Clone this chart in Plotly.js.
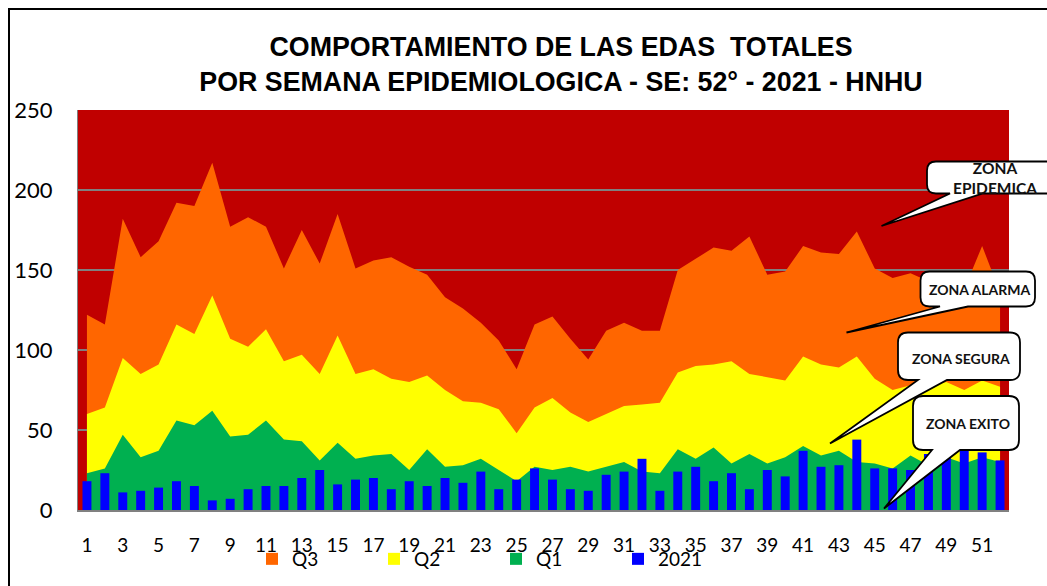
<!DOCTYPE html>
<html>
<head>
<meta charset="utf-8">
<script src="https://cdn.plot.ly/plotly-3.0.1.min.js"></script>
<style>
html,body{margin:0;padding:0;background:#fff;}
#chart{width:1047px;height:586px;}
</style>
</head>
<body>
<div id="chart"></div>
<script>
// ---- data ----
const weeks = [1,2,3,4,5,6,7,8,9,10,11,12,13,14,15,16,17,18,19,20,21,22,23,24,25,26,
               27,28,29,30,31,32,33,34,35,36,37,38,39,40,41,42,43,44,45,46,47,48,49,50,51,52];
const q3 = [122,116,182,158,168,192,190,217,177,183,177,151,175,154,185,151,156,158,152,147,133,126,117,106,88,116,
            121,107,94,112,117,112,112,150,157,164,162,171,147,149,165,161,160,174,151,145,148,143,140,138,165,136];
const q2 = [60,64,95,85,91,116,110,134,107,102,113,93,97,85,109,85,88,82,80,84,75,68,67,63,48,64,
            70,61,55,60,65,66,67,86,90,91,93,85,83,81,96,91,89,96,82,75,78,77,80,75,81,77];
const q1 = [23,26,47,33,37,56,53,62,46,47,56,44,43,31,42,32,34,35,25,38,27,28,32,25,18,27,
            25,27,24,27,30,24,23,38,32,39,29,35,29,33,40,34,37,30,29,26,34,28,33,29,33,30];
const cases2021 = [18,23,11,12,14,18,15,6,7,13,15,15,20,25,16,19,20,13,18,15,20,17,24,13,19,26,
                   19,13,12,22,24,32,12,24,27,18,23,13,25,21,37,27,28,44,26,26,25,35,38,40,36,31];
const xTickVals = [1,3,5,7,9,11,13,15,17,19,21,23,25,27,29,31,33,35,37,39,41,43,45,47,49,51];
const yTickVals = [0,50,100,150,200,250];
const seriesNames = ['Q3','Q2','Q1','2021'];
const zoneLabels = ['ZONA<br>EPIDEMICA','ZONA ALARMA','ZONA SEGURA','ZONA EXITO'];
const titleText = 'COMPORTAMIENTO DE LAS EDAS\u00A0 TOTALES<br>POR SEMANA EPIDEMIOLOGICA - SE: 52° - 2021 - HNHU';

// ---- geometry helpers (pixel -> paper) ----
const M = {l:78, r:38, t:110, b:76};
const W = 1047 - M.l - M.r, H = 586 - M.t - M.b;
const px = x => (x - M.l) / W;
const py = y => (M.t + H - y) / H;
function P(x, y){ return px(x).toFixed(5) + ',' + py(y).toFixed(5); }
function bubble(l, t, r, b, rad, b1, b2, tx, ty){
  return 'M' + P(l+rad, t) + ' L' + P(r-rad, t) + ' Q' + P(r, t) + ' ' + P(r, t+rad) +
         ' L' + P(r, b-rad) + ' Q' + P(r, b) + ' ' + P(r-rad, b) +
         ' L' + P(b2, b) + ' L' + P(tx, ty) + ' L' + P(b1, b) +
         ' L' + P(l+rad, b) + ' Q' + P(l, b) + ' ' + P(l, b-rad) +
         ' L' + P(l, t+rad) + ' Q' + P(l, t) + ' ' + P(l+rad, t) + ' Z';
}

const cOr = '#FF6600', cYe = '#FFFF00', cGr = '#00B050', cBl = '#0000FF', cRed = '#C00000';

const traces = [
  {type:'scatter', x:weeks, y:q3, mode:'none', fill:'tozeroy', fillcolor:cOr, name:seriesNames[0], legendgroup:'q3', showlegend:false, hoverinfo:'x+y'},
  {type:'scatter', x:weeks, y:q2, mode:'none', fill:'tozeroy', fillcolor:cYe, name:seriesNames[1], legendgroup:'q2', showlegend:false, hoverinfo:'x+y'},
  {type:'scatter', x:weeks, y:q1, mode:'none', fill:'tozeroy', fillcolor:cGr, name:seriesNames[2], legendgroup:'q1', showlegend:false, hoverinfo:'x+y'},
  {type:'bar', x:[null], y:[null], name:seriesNames[0], legendgroup:'q3', marker:{color:cOr}},
  {type:'bar', x:[null], y:[null], name:seriesNames[1], legendgroup:'q2', marker:{color:cYe}},
  {type:'bar', x:[null], y:[null], name:seriesNames[2], legendgroup:'q1', marker:{color:cGr}},
  {type:'bar', x:weeks, y:cases2021, name:seriesNames[3], yaxis:'y2', marker:{color:cBl}}
];

const fTick = {family:'Lato, Carlito, sans-serif', size:19, color:'#000'};
const fZone = {family:'Lato, Carlito, sans-serif', size:14, color:'#111', weight:'bold'};

const layout = {
  width:1047, height:586,
  margin:{l:M.l, r:M.r, t:M.t, b:M.b, pad:0, autoexpand:false},
  paper_bgcolor:'#FFFFFF',
  plot_bgcolor:cRed,
  showlegend:true,
  barmode:'overlay',
  bargap:0.5,
  title:{
    text:titleText,
    font:{family:'Liberation Sans, Arial, sans-serif', size:26.8, color:'#000', weight:'bold'},
    x:px(561), xref:'paper', xanchor:'center',
    y:1 - 56/586, yref:'container', yanchor:'top'
  },
  xaxis:{
    range:[0.5, 52.5], tickmode:'array', tickvals:xTickVals, ticktext:xTickVals.map(String),
    showgrid:false, zeroline:false, showline:true, linecolor:'#808080', linewidth:2,
    ticks:'', tickfont:fTick, ticklabelstandoff:17, fixedrange:true
  },
  yaxis:{
    range:[0, 250], tickmode:'array', tickvals:yTickVals,
    showgrid:true, gridcolor:'#808080', gridwidth:2,
    zeroline:false, showline:true, linecolor:'#808080', linewidth:1,
    ticks:'', tickfont:{family:'Lato, Carlito, sans-serif', size:22, color:'#000'}, ticklabelstandoff:20, fixedrange:true
  },
  yaxis2:{
    overlaying:'y', range:[0, 250], showgrid:false, zeroline:false, showline:false,
    showticklabels:false, ticks:'', fixedrange:true
  },
  legend:{
    orientation:'h', x:px(252), xanchor:'left', y:py(540), yanchor:'top',
    font:{family:'Lato, Carlito, sans-serif', size:19, color:'#000'},
    entrywidth:77, entrywidthmode:'pixels', traceorder:'normal',
    bgcolor:'rgba(0,0,0,0)', borderwidth:0, itemclick:false, itemdoubleclick:false
  },
  shapes:[
    {type:'rect', xref:'paper', yref:'paper', x0:px(9), x1:px(1070), y0:py(620), y1:py(9),
     line:{color:'#000', width:2}, fillcolor:'rgba(0,0,0,0)', layer:'above'},
    {type:'path', xref:'paper', yref:'paper', path:bubble(927, 161.5, 1075, 193.5, 9, 950, 983, 881.5, 226),
     fillcolor:'#FFFFFF', line:{color:'#000', width:1.8}, layer:'above'},
    {type:'path', xref:'paper', yref:'paper', path:bubble(920.5, 271.5, 1035, 306.5, 9, 940, 968, 846.5, 332.5),
     fillcolor:'#FFFFFF', line:{color:'#000', width:1.8}, layer:'above'},
    {type:'path', xref:'paper', yref:'paper', path:bubble(898, 332.5, 1020, 380, 10, 918, 947, 830, 443.5),
     fillcolor:'#FFFFFF', line:{color:'#000', width:1.8}, layer:'above'},
    {type:'path', xref:'paper', yref:'paper', path:bubble(913, 396, 1019, 450, 10, 932, 960, 884, 508.5),
     fillcolor:'#FFFFFF', line:{color:'#000', width:1.8}, layer:'above'}
  ],
  annotations:[
    {xref:'paper', yref:'paper', x:px(995), y:py(178), text:zoneLabels[0], showarrow:false,
     xanchor:'center', yanchor:'middle', font:Object.assign({}, fZone, {size:15.5})},
    {xref:'paper', yref:'paper', x:px(979.5), y:py(289.5), text:zoneLabels[1], showarrow:false,
     xanchor:'center', yanchor:'middle', font:fZone},
    {xref:'paper', yref:'paper', x:px(961), y:py(358), text:zoneLabels[2], showarrow:false,
     xanchor:'center', yanchor:'middle', font:fZone},
    {xref:'paper', yref:'paper', x:px(968), y:py(423.5), text:zoneLabels[3], showarrow:false,
     xanchor:'center', yanchor:'middle', font:fZone}
  ]
};

Plotly.newPlot('chart', traces, layout, {displayModeBar:false, staticPlot:false});
</script>
</body>
</html>
